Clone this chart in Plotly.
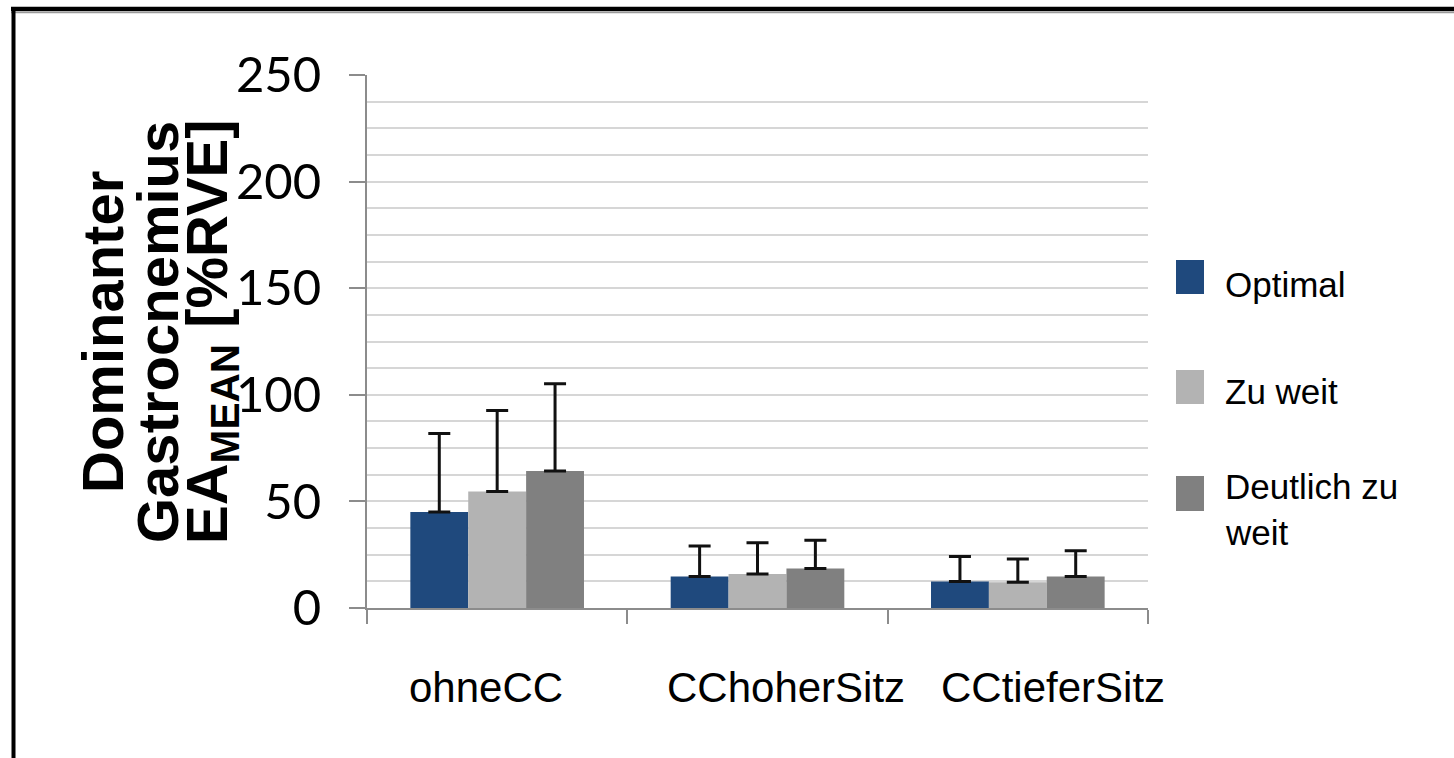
import plotly.graph_objects as go

# Data
categories = ["ohneCC", "CChoherSitz", "CCtieferSitz"]
series_names = ["Optimal", "Zu weit", "Deutlich zu weit"]
optimal_mean = [45.0, 14.8, 12.4]
optimal_sd = [36.9, 14.3, 11.7]
zu_weit_mean = [54.6, 16.0, 12.1]
zu_weit_sd = [38.0, 14.6, 10.9]
deutlich_mean = [64.3, 18.5, 14.8]
deutlich_sd = [40.9, 13.3, 12.1]
y_ticks = [0, 50, 100, 150, 200, 250]

colors = ["#1f497d", "#b3b3b3", "#808080"]

W, H = 1454, 758
L, R, T, B = 367, 1148, 75, 608


def px_x(px):
    return (px - L) / (R - L)


def px_y(py):
    return (B - py) / (B - T)


SANS = "Liberation Sans, Arial, sans-serif"

fig = go.Figure()
for name, means, sds, col in zip(
    series_names,
    [optimal_mean, zu_weit_mean, deutlich_mean],
    [optimal_sd, zu_weit_sd, deutlich_sd],
    colors,
):
    fig.add_bar(
        x=categories,
        y=means,
        name=name,
        marker=dict(color=col, line=dict(width=0)),
        error_y=dict(
            type="data",
            array=sds,
            arrayminus=[0] * len(sds),
            symmetric=False,
            color="#111111",
            thickness=3,
            width=11,
        ),
    )

axis_grey = "#8c8c8c"
grid_grey = "#d6d6d6"

fig.update_layout(
    width=W,
    height=H,
    margin=dict(l=L, r=W - R, t=T, b=H - B),
    paper_bgcolor="white",
    plot_bgcolor="white",
    barmode="group",
    bargap=0.333,
    bargroupgap=0,
    showlegend=False,
    xaxis=dict(
        range=[-0.5, len(categories) - 0.5],
        autorange=False,
        showline=True,
        linecolor=axis_grey,
        linewidth=2,
        ticks="outside",
        tickson="boundaries",
        ticklen=14,
        tickwidth=2,
        tickcolor=axis_grey,
        showticklabels=False,
        showgrid=False,
        zeroline=False,
    ),
    yaxis=dict(
        range=[0, 250],
        autorange=False,
        tickvals=y_ticks,
        showline=True,
        linecolor=axis_grey,
        linewidth=2,
        ticks="outside",
        ticklen=16,
        tickwidth=2,
        tickcolor=axis_grey,
        tickfont=dict(family="Lato, Carlito, sans-serif", size=49, color="black"),
        ticklabelstandoff=18,
        showgrid=True,
        gridcolor=grid_grey,
        gridwidth=2,
        minor=dict(dtick=12.5, showgrid=True, gridcolor=grid_grey, gridwidth=2, ticks=""),
        zeroline=False,
    ),
)

# Category labels under the axis
label_shift = [-11, 28, 35]
for cat, dx in zip(categories, label_shift):
    fig.add_annotation(
        x=cat, xref="x", y=px_y(687), yref="paper",
        text=cat, showarrow=False, xshift=dx,
        xanchor="center", yanchor="middle",
        font=dict(family=SANS, size=42, color="black"),
    )

# Y-axis title in three rotated lines
title_lines = ["Dominanter", "Gastrocnemius", "EA<sub>MEAN</sub> [%RVE]"]
title_x = [102, 157, 211]
for txt, xp in zip(title_lines, title_x):
    fig.add_annotation(
        x=px_x(xp), xref="paper", y=px_y(332), yref="paper",
        text=txt, showarrow=False, textangle=-90,
        xanchor="center", yanchor="middle",
        font=dict(family=SANS, size=58, color="black", weight="bold"),
    )

# Legend: coloured squares with labels
legend_boxes = [(260, 294), (370, 404), (476, 511)]
for col, (y0, y1) in zip(colors, legend_boxes):
    fig.add_shape(
        type="rect", xref="paper", yref="paper",
        x0=px_x(1176), x1=px_x(1204), y0=px_y(y1), y1=px_y(y0),
        fillcolor=col, line=dict(width=0),
    )
legend_text = [("Optimal", 284), ("Zu weit", 391), ("Deutlich zu", 486), ("weit", 532)]
for txt, yp in legend_text:
    fig.add_annotation(
        x=px_x(1223), xref="paper", y=px_y(yp), yref="paper",
        text=txt, showarrow=False, xanchor="left", yanchor="middle",
        font=dict(family=SANS, size=35, color="black"),
    )

# Outer frame (top and left edges)
fig.add_shape(type="line", xref="paper", yref="paper",
              x0=px_x(11), x1=px_x(W + 5), y0=px_y(9), y1=px_y(9),
              line=dict(color="black", width=4.5))
fig.add_shape(type="line", xref="paper", yref="paper",
              x0=px_x(11), x1=px_x(W + 5), y0=px_y(12.5), y1=px_y(12.5),
              line=dict(color="#9a9a9a", width=1.5))
fig.add_shape(type="line", xref="paper", yref="paper",
              x0=px_x(13.5), x1=px_x(13.5), y0=px_y(7), y1=px_y(H + 5),
              line=dict(color="black", width=4))

fig.write_html("out.html")
